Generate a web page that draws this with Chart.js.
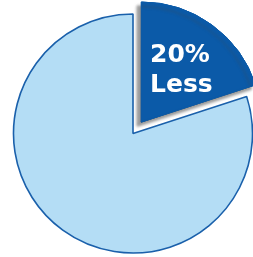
<!DOCTYPE html>
<html>
<head>
<meta charset="utf-8">
<script src="https://cdn.jsdelivr.net/npm/chart.js@4/dist/chart.umd.min.js"></script>
<style>
  html, body { margin: 0; padding: 0; background: #ffffff; }
  #wrap { position: relative; width: 253px; height: 257px; }
</style>
</head>
<body>
<div id="wrap"><canvas id="pie-chart" width="253" height="257"></canvas></div>
<script>
const labels = ['20% Less', 'Remaining'];
const values = [20, 80];
const fillColors = ['#0b5aa8', '#b4ddf5'];
const calloutLines = ['20%', 'Less'];

// redraw the pulled-out slice with a soft shadow, then the label on it
const sliceShadow = {
    id: 'sliceShadow',
    afterDatasetsDraw(chart) {
        const ctx = chart.ctx;
        const arc = chart.getDatasetMeta(0).data[0];
        if (!arc) return;

        ctx.save();
        ctx.shadowColor = 'rgba(70, 70, 70, 0.55)';
        ctx.shadowBlur = 3;
        ctx.shadowOffsetX = -4;
        ctx.shadowOffsetY = 4;
        arc.draw(ctx);
        ctx.restore();

        ctx.save();
        ctx.fillStyle = '#ffffff';
        ctx.font = 'bold 25px "DejaVu Sans", sans-serif';
        ctx.textAlign = 'left';
        ctx.textBaseline = 'alphabetic';
        ctx.fillText(calloutLines[0], arc.x + 17, arc.y - 72);
        ctx.fillText(calloutLines[1], arc.x + 17, arc.y - 42);
        ctx.restore();
    }
};

const ctx = document.getElementById('pie-chart').getContext('2d');
new Chart(ctx, {
    type: 'pie',
    data: {
        labels,
        datasets: [{
            data: values,
            backgroundColor: fillColors,
            borderColor: ['#0b5aa8', '#1a60ab'],
            borderWidth: [1, 1.6],
            // chart.js moves the slice by offset / 4
            offset: [56, 0],
            radius: 119.5
        }]
    },
    options: {
        responsive: false,
        animation: false,
        layout: { padding: { left: 13, right: 0, top: 10, bottom: 0 } },
        plugins: {
            legend: { display: false },
            tooltip: { enabled: false }
        }
    },
    plugins: [sliceShadow]
});
</script>
</body>
</html>
